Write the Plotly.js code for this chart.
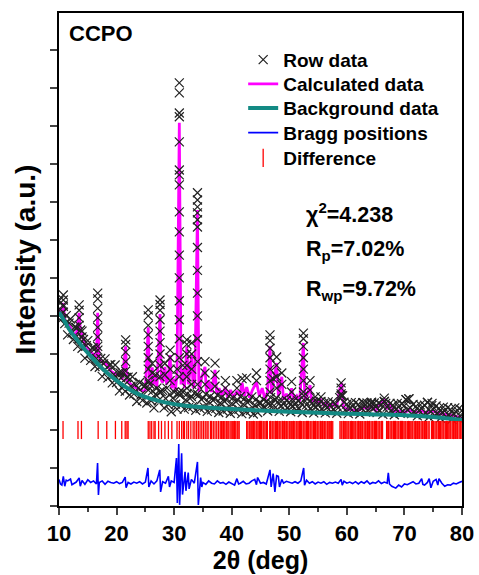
<!DOCTYPE html>
<html><head><meta charset="utf-8">
<script src="https://cdn.plot.ly/plotly-3.0.1.min.js"></script>
<style>html,body{margin:0;padding:0;background:#fff}#chart{width:479px;height:575px}</style>
</head><body><div id="chart"></div>
<script>
// ---- Data (arbitrary intensity units) ----
// Observed ("Row data") band, sampled every 0.25 deg from 10 to 80
const obsBandStart = 10, obsBandStep = 0.25;
const obsBandY = [
5.40,4.89,5.07,5.29, 4.80,5.01,4.50,4.81, 4.92,4.55,4.38,4.71, 4.70,4.20,4.40,4.63,
4.15,4.38,3.89,4.22, 4.35,3.99,3.83,4.16, 4.16,3.67,3.88,4.10, 3.65,3.88,3.41,3.74,
3.87,3.52,3.37,3.71, 3.72,3.24,3.46,3.71, 3.25,3.49,3.03,3.37, 3.51,3.17,3.02,3.38,
3.39,2.92,3.15,3.40, 2.95,3.20,2.75,3.10, 3.25,2.92,2.78,3.15, 3.17,2.71,3.05,3.21,
2.77,3.03,2.58,2.94, 3.10,2.77,3.00,3.01, 3.04,2.58,2.83,3.10, 2.66,2.93,2.48,2.84,
3.00,2.68,2.55,2.95, 2.91,2.66,3.00,2.55, 2.79,2.95,2.59,2.83, 2.88,2.62,2.97,2.52,
2.95,2.91,2.56,2.80, 2.85,2.60,2.94,2.49, 2.74,2.88,2.53,2.78, 2.82,2.57,2.92,2.46,
2.71,2.86,2.50,2.75, 2.80,2.55,2.89,2.44, 2.70,2.85,2.49,2.74, 2.79,2.54,2.88,2.43,
2.68,2.83,2.48,2.72, 2.77,2.52,2.87,2.42, 2.66,2.81,2.46,2.71, 2.71,2.56,2.80,2.60,
2.75,2.50,2.70,2.85, 2.69,2.54,2.79,2.85, 2.74,2.49,2.63,2.78, 2.68,2.53,2.78,2.58,
2.73,2.48,2.62,2.77, 2.67,2.52,2.77,2.57, 2.71,2.46,2.90,2.76, 2.66,2.51,2.76,2.56,
2.71,2.45,2.60,2.75, 2.65,2.50,2.75,2.55, 2.70,2.45,2.59,2.74, 2.64,2.49,2.74,2.54,
2.69,2.44,2.58,2.85, 2.95,2.90,2.73,2.53, 2.68,2.43,2.58,2.72, 2.62,2.47,2.72,2.52,
2.67,2.42,2.57,2.72, 2.62,2.47,2.71,2.51, 2.66,2.70,2.56,2.71, 2.61,2.46,2.71,2.51,
2.66,2.41,2.75,2.70, 2.60,2.45,2.70,2.50, 2.65,2.40,2.55,2.70, 2.60,2.44,2.69,2.49,
2.64,2.80,2.53,2.82, 2.58,2.43,2.67,2.47, 2.62,2.37,2.51,2.66, 2.56,2.40,2.65,2.45,
2.72,2.34,2.49,2.64, 2.54,2.38,2.63,2.42, 2.57,2.31,2.46,2.60, 2.50,2.35,2.59,2.39,
2.54,2.28,2.43,2.58, 2.47,2.32,2.57,2.36, 2.51
];
// Observed points on the flanks of the Bragg peaks
const obsPeakX = [
10.75,10.75,10.75,10.75, 13.5,13.5,13.5,13.5, 14.0,14.0,
16.72,16.72,16.72,16.72,16.72,16.72,16.72, 20.6,
21.58,21.58,21.58,21.58,21.58,
25.5,25.5,25.5,25.5,25.5,25.5,25.5,25.5, 26.2,26.2, 26.8,
27.55,27.55,27.55,27.55,27.55,27.55,27.55,27.55,27.55, 28.4,28.4,
29.3,29.3,29.3,29.3, 30.5,
30.9,30.9,30.9,30.9,30.9,30.9,30.9,30.9,30.9,30.9,30.9,30.9,30.9,30.9,30.9,30.9,30.9,30.9,
31.5, 32.2,32.2,32.2,32.2,32.2,32.2, 33.05,33.05,33.05,33.05,
34.05,34.05,34.05,34.05,34.05,34.05,34.05,34.05,34.05,34.05,34.05,34.05,34.05,
35.36,35.36,35.36, 37.1,37.1,37.1, 38.9,38.9, 40.9,40.9, 41.8, 42.6, 44.3,44.3,
46.65,46.65,46.65,46.65,46.65,46.65,46.65, 47.2, 47.8,47.8,47.8,47.8, 48.7,48.7,
50.4,50.4, 52.45,52.45,52.45,52.45,52.45,52.45,52.45, 53.6,53.6, 54.5, 55.5,
59.0,59.0,59.0, 63.0, 64.3, 66.5,66.5, 70.3, 70.8, 74.0, 74.8
];
const obsPeakY = [
5.55,5.42,5.25,5.10, 5.29,5.15,4.95,4.75, 4.60,4.45,
5.60,5.45,5.20,4.95,4.70,4.45,4.20, 3.50,
4.37,4.25,4.05,3.80,3.55,
5.16,5.00,4.75,4.50,4.20,3.90,3.60,3.30, 3.75,3.50, 3.45,
5.42,5.30,5.15,4.90,4.60,4.30,4.00,3.70,3.40, 3.75,3.45,
4.10,3.90,3.60,3.30, 3.60,
11.13,10.87,10.34,10.24,9.58,8.84,8.71,8.45,7.74,7.21,6.60,6.00,5.40,4.90,4.40,3.90,3.40,3.00,
3.70, 4.37,4.25,4.00,3.70,3.40,3.10, 4.29,4.00,3.60,3.20,
8.24,8.05,7.87,7.71,7.53,7.34,6.80,6.20,5.60,5.00,4.40,3.80,3.20,
3.80,3.50,3.20, 3.76,3.45,3.15, 3.30,3.10, 3.30,3.10, 3.35, 3.37, 3.50,3.30,
4.50,4.35,4.15,3.90,3.60,3.30,3.00, 3.35, 3.92,3.70,3.40,3.10, 3.50,3.20,
3.27,3.00, 4.55,4.40,4.20,3.90,3.60,3.30,3.00, 3.30,3.05, 2.87, 2.87,
3.24,3.10,2.90, 2.70, 2.73, 2.84,2.75, 2.80, 2.82, 2.73, 2.70
];
// Calculated profile
const calcX = [10.0,10.5,10.75,11.0,11.5,12.0,12.5,13.0,13.5,13.8,14.0,14.3,15.0,16.0,16.5,16.72,16.95,17.5,18.3,19.0,20.0,20.6,21.0,21.58,21.8,22.5,23.5,24.5,25.0,25.5,25.7,26.0,26.2,26.4,26.8,27.0,27.55,27.8,28.0,28.4,28.7,29.0,29.3,29.55,29.9,30.2,30.5,30.9,31.2,31.5,31.8,32.2,32.5,33.05,33.3,33.6,34.05,34.3,34.8,35.36,35.6,36.0,36.5,37.1,37.4,37.8,38.3,38.9,39.3,39.8,40.3,40.9,41.4,41.8,42.2,42.6,43.1,43.6,44.3,44.8,45.3,45.8,46.2,46.65,46.9,47.2,47.8,48.1,48.7,49.0,49.5,50.0,50.4,50.8,51.3,51.8,52.45,52.7,53.0,53.6,53.9,54.5,55.0,55.5,56.0,56.5,57.0,57.7,58.2,58.8,59.1,59.4,60.0,61.0,62.0,63.0,63.7,64.3,65.0,65.8,66.5,67.0,67.5,68.0,69.0,70.0,71.0,72.0,73.0,74.0,75.0,76.0,77.0,78.0,79.0,80.0];
const calcY = [5.2,5.0,5.34,4.9,4.8,4.7,4.55,4.5,5.08,4.45,4.55,4.3,4.15,3.98,3.95,5.08,3.9,3.8,3.72,3.55,3.45,3.5,3.33,4.2,3.3,3.2,3.1,3.03,3.05,4.7,3.3,3.15,3.65,3.2,3.4,3.1,5.05,3.3,3.25,3.66,3.2,3.4,3.97,3.1,3.35,3.0,3.5,10.08,3.2,3.6,3.1,4.2,3.2,4.0,3.1,3.3,7.79,3.0,3.4,3.66,3.0,3.3,3.0,3.58,2.95,3.1,2.9,3.13,2.85,3.05,2.85,3.03,2.9,3.24,2.9,3.13,2.85,3.05,3.26,2.9,3.1,2.8,3.0,4.2,2.95,3.2,3.76,2.9,3.4,2.8,2.95,2.8,3.1,2.8,2.9,2.75,4.29,2.8,2.85,3.18,2.75,2.79,2.7,2.79,2.65,2.72,2.6,2.7,2.6,3.1,3.24,2.6,2.55,2.53,2.52,2.6,2.55,2.62,2.5,2.7,2.79,2.55,2.72,2.48,2.5,2.47,2.52,2.46,2.5,2.45,2.5,2.43,2.42,2.4,2.36,2.3];
// Background
const bgX = [10,11,12,13,14,15,16,17,18,19,20,21,22,23,24,25,26,27,28,30,32,35,40,45,50,55,60,65,70,75,80];
const bgY = [5.1,4.85,4.6,4.4,4.2,4.03,3.86,3.7,3.55,3.42,3.3,3.19,3.09,3.0,2.93,2.87,2.82,2.78,2.74,2.68,2.64,2.6,2.55,2.51,2.48,2.45,2.43,2.41,2.39,2.34,2.26];
// Difference curve (drawn blue)
const diffX = [10.0,10.25,10.5,10.75,11.0,11.25,11.5,12.0,12.25,12.5,13.0,13.5,13.7,14.0,14.5,15.0,15.5,16.0,16.5,16.7,16.85,17.0,17.5,18.0,18.5,19.0,19.5,20.0,20.5,21.0,21.5,21.65,22.0,22.5,23.0,23.5,24.0,24.5,25.0,25.45,25.6,26.0,26.5,27.0,27.5,27.65,28.0,28.5,29.0,29.2,29.5,30.0,30.4,30.55,30.8,30.95,31.3,31.45,31.9,32.05,32.45,32.6,33.0,33.5,34.05,34.2,34.6,34.8,35.0,35.5,36.0,36.5,37.0,37.5,38.0,38.5,39.0,39.5,40.0,40.5,40.9,41.2,41.5,42.0,42.5,43.0,43.5,44.0,44.3,44.5,45.0,45.5,46.0,46.65,46.85,47.2,47.5,47.8,48.1,48.3,48.7,49.0,49.5,50.0,50.5,51.0,51.5,52.0,52.5,52.65,53.0,53.5,54.0,54.5,55.0,55.5,56.0,56.5,57.0,57.5,58.0,58.5,59.0,59.2,59.5,60.0,60.5,61.0,61.5,62.0,62.5,63.0,63.5,64.0,64.5,65.0,65.5,66.0,66.5,67.0,67.2,67.4,67.8,68.5,69.0,69.5,70.0,70.5,71.0,71.5,72.0,72.5,73.0,73.2,73.5,74.0,74.3,74.6,75.0,75.5,75.8,76.0,76.5,77.0,77.5,78.0,78.5,79.0,79.5,80.0];
const diffY = [0.70,0.58,0.55,0.78,0.52,0.68,0.66,0.71,0.56,0.58,0.63,0.74,0.52,0.67,0.57,0.69,0.62,0.66,0.58,1.13,0.29,0.62,0.66,0.57,0.65,0.62,0.60,0.64,0.59,0.62,0.76,0.48,0.62,0.58,0.63,0.60,0.64,0.58,0.63,1.00,0.50,0.66,0.58,0.66,0.95,0.37,0.64,0.60,0.78,0.50,0.66,0.62,1.26,0.08,1.63,0.03,1.39,0.30,0.90,0.40,0.88,0.45,0.70,0.60,1.16,0.03,0.75,0.50,0.62,0.57,0.66,0.60,0.58,0.66,0.60,0.62,0.57,0.63,0.60,0.55,0.72,0.58,0.60,0.65,0.58,0.60,0.66,0.70,0.56,0.75,0.60,0.62,0.58,0.95,0.50,0.85,0.37,0.80,0.78,0.50,0.70,0.60,0.65,0.62,0.60,0.64,0.60,0.66,1.00,0.55,0.68,0.60,0.64,0.58,0.63,0.60,0.64,0.57,0.62,0.60,0.63,0.60,0.70,0.55,0.65,0.60,0.63,0.59,0.64,0.58,0.64,0.60,0.66,0.58,0.62,0.60,0.66,0.59,0.63,0.60,0.87,0.58,0.52,0.47,0.55,0.50,0.58,0.56,0.60,0.64,0.58,0.60,0.72,0.57,0.55,0.62,0.72,0.48,0.65,0.70,0.55,0.72,0.60,0.52,0.56,0.55,0.60,0.58,0.62,0.65];
// Reflection (tick) positions, drawn red
const braggPos = [10.7,13.3,13.9,16.8,18.3,19.8,20.9,21.5,21.8,22.0,
25.5,25.8,26.1,26.5,26.7,27.3,27.8,28.4,29.0,29.6,30.5,30.9,31.3,31.6,31.8,32.2,32.5,32.9,33.3,33.6,33.9,34.2,34.5,34.8,35.1,35.4,35.7,35.9,36.3,36.5,36.8,37.1,37.4,37.7,
38.0,38.2,38.45,38.6,38.8,39.05,39.2,39.4,39.7,39.9,40.1,40.35,40.5,40.7,40.95,41.1,41.3,
42.6,42.8,43.05,43.2,43.4,43.65,43.8,44.0,44.25,44.4,44.6,44.85,45.0,45.2,45.45,45.6,45.8,46.05,46.2,
46.6,46.75,47.0,47.15,47.35,47.6,47.75,47.95,48.2,48.35,48.55,48.8,48.95,49.15,49.4,49.55,49.75,50.0,50.15,50.35,50.6,50.75,50.95,51.2,51.35,51.55,51.8,51.95,52.15,52.4,52.55,52.75,53.0,53.15,53.35,53.6,53.75,53.95,54.2,54.35,54.55,54.8,54.95,55.15,55.4,55.55,55.75,56.0,56.15,56.35,56.6,56.75,56.95,57.2,57.35,57.55,
58.8,59.0,59.15,59.4,59.55,59.8,60.0,60.2,60.35,60.6,60.8,60.95,61.2,61.4,61.55,61.8,62.0,62.15,62.4,62.6,62.75,63.0,63.2,63.35,63.6,63.8,63.95,64.2,64.4,64.55,64.8,65.0,65.15,65.4,65.6,65.75,66.0,66.2,
66.9,67.1,67.25,67.5,67.7,67.85,68.1,68.3,68.45,68.7,68.9,69.05,69.3,69.5,69.65,69.9,70.1,70.25,70.5,70.7,70.85,71.1,71.3,71.45,71.7,71.9,72.05,72.3,72.5,72.65,72.9,73.1,73.25,73.5,73.7,73.85,74.1,74.3,
74.7,74.9,75.05,75.3,75.5,75.65,75.9,76.1,76.25,76.5,76.7,76.85,77.1,77.3,77.45,77.7,77.9,78.05,78.3,78.5,78.65,78.9,79.1,79.25,79.5,79.7,79.85];
const braggLevel = 2.0;
const xTicks = [10,20,30,40,50,60,70,80];
const legendNames = ['Row data','Calculated data','Background data','Bragg positions','Difference'];
const statTexts = ['\u03c7<sup>2</sup>=4.238','R<sub>p</sub>=7.02%','R<sub>wp</sub>=9.72%'];
const sampleLabel = 'CCPO';

// ---- Build traces ----
const obsBandX = obsBandY.map((_, i) => obsBandStart + i * obsBandStep);
const obsX = obsBandX.concat(obsPeakX);
const obsY = obsBandY.concat(obsPeakY);
const FONT = 'Liberation Sans, Arial, sans-serif';

const traces = [
  {x: calcX, y: calcY, mode: 'lines', name: legendNames[1], legend: 'legend2',
   line: {color: '#ff00ff', width: 2.8}},
  {x: obsX, y: obsY, mode: 'markers', name: legendNames[0], legend: 'legend',
   marker: {symbol: 'x-thin-open', size: 9, color: '#222222', line: {width: 1.2, color: '#222222'}}},
  {x: bgX, y: bgY, mode: 'lines', name: legendNames[2], legend: 'legend3',
   line: {color: '#138a84', width: 4, shape: 'spline'}},
  {x: diffX, y: diffY, mode: 'lines', name: legendNames[3], legend: 'legend4',
   line: {color: '#0000ff', width: 1.6}},
  {x: braggPos, y: braggPos.map(() => braggLevel), mode: 'markers', name: legendNames[4], legend: 'legend5',
   marker: {symbol: 'line-ns-open', size: 13, color: '#ff0000', line: {width: 1.3, color: '#ff0000'}}}
];

const statY = [0.594, 0.519, 0.438];
const annotations = [
  {text: sampleLabel, xref: 'paper', yref: 'paper', x: 0.02, y: 0.959, xanchor: 'left', yanchor: 'middle',
   showarrow: false, font: {family: FONT, size: 22, weight: 'bold', color: '#000'}}
].concat(statTexts.map((t, i) => ({
   text: t, xref: 'paper', yref: 'paper', x: 0.608, y: statY[i], xanchor: 'left', yanchor: 'middle',
   showarrow: false, font: {family: FONT, size: 21.5, weight: 'bold', color: '#000'}})));

const legRowY = [0.905, 0.856, 0.807, 0.757, 0.706];
function legendAt(i) {
  return {x: 0.457, y: legRowY[i], xanchor: 'left', yanchor: 'middle', bgcolor: 'rgba(0,0,0,0)',
          font: {family: FONT, size: 19, weight: 'bold', color: '#000'}};
}

const layout = {
  width: 479, height: 575,
  margin: {l: 59, r: 17, t: 13, b: 69},
  paper_bgcolor: '#fff', plot_bgcolor: '#fff',
  font: {family: FONT, color: '#000'},
  showlegend: true,
  legend: legendAt(0), legend2: legendAt(1), legend3: legendAt(2), legend4: legendAt(3), legend5: legendAt(4),
  xaxis: {range: [10, 80], tickvals: xTicks, ticks: 'outside', ticklen: 7, tickwidth: 2,
          linewidth: 2, linecolor: '#000', mirror: true, showgrid: false, zeroline: false,
          tickfont: {family: FONT, size: 22, weight: 'bold'},
          minor: {ticks: 'outside', ticklen: 4, tickwidth: 2, dtick: 5, tick0: 5, showgrid: false},
          title: {text: '2\u03b8 (deg)', font: {family: FONT, size: 25, weight: 'bold'}, standoff: 0}},
  yaxis: {range: [0, 12.97], tick0: 0, dtick: 1, ticks: 'outside', ticklen: 7, tickwidth: 2,
          showticklabels: false, linewidth: 2, linecolor: '#000', mirror: true,
          showgrid: false, zeroline: false,
          title: {text: 'Intensity (a.u.)', font: {family: FONT, size: 28, weight: 'bold'}, standoff: 6}},
  annotations: annotations
};

Plotly.newPlot('chart', traces, layout, {displayModeBar: false, staticPlot: true});
</script></body></html>
